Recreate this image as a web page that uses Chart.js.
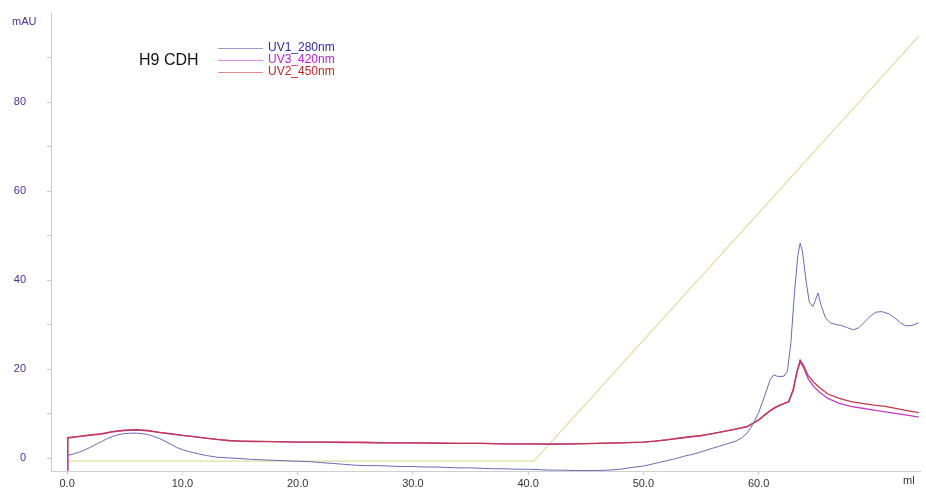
<!DOCTYPE html>
<html>
<head>
<meta charset="utf-8">
<title>H9 CDH chromatogram</title>
<script src="https://cdn.jsdelivr.net/npm/chart.js@4.4.1/dist/chart.umd.min.js"></script>
<style>
  html, body { margin: 0; padding: 0; background: #ffffff; }
  #c { display: block; }
</style>
</head>
<body>
<canvas id="c" width="926" height="490"></canvas>
<script>
// ---- chromatogram data (elution volume in ml, absorbance in mAU) ----
const runTitle = 'H9 CDH';
const seriesNames = ['UV1_280nm', 'UV3_420nm', 'UV2_450nm'];

const uv1Volume = [0.0, 0.05, 0.5, 1.0, 1.5, 2.0, 2.5, 3.0, 3.5, 4.0, 4.5, 5.0, 5.5, 6.0, 6.5, 7.0, 7.5, 8.0, 8.5, 9.0, 9.5, 10.0, 10.5, 11.0, 11.5, 12.0, 12.5, 13.0, 14.0, 15.0, 16.0, 17.0, 18.0, 19.0, 20.0, 21.0, 22.0, 23.0, 24.0, 25.0, 26.0, 27.0, 28.0, 29.0, 30.0, 31.0, 32.0, 33.0, 34.0, 35.0, 36.0, 37.0, 38.0, 39.0, 40.0, 41.0, 42.0, 43.0, 44.0, 45.0, 46.0, 47.0, 48.0, 49.0, 50.0, 50.5, 51.0, 51.5, 52.0, 52.5, 53.0, 53.5, 54.0, 54.5, 55.0, 55.5, 56.0, 56.5, 57.0, 57.5, 58.0, 58.5, 59.0, 59.5, 60.0, 60.5, 61.0, 61.3, 61.7, 62.2, 62.5, 62.8, 63.1, 63.4, 63.6, 63.8, 64.1, 64.4, 64.7, 65.0, 65.15, 65.4, 65.8, 66.2, 66.7, 67.2, 67.7, 68.2, 68.7, 69.2, 69.7, 70.2, 70.7, 71.3, 71.8, 72.3, 72.8, 73.3, 73.9];
const uv1Absorbance = [-2.7, 0.6, 0.9, 1.3, 1.8, 2.4, 3.1, 3.7, 4.4, 4.9, 5.3, 5.5, 5.6, 5.6, 5.5, 5.3, 4.9, 4.4, 3.8, 3.1, 2.4, 1.9, 1.5, 1.2, 0.9, 0.6, 0.4, 0.2, 0.05, -0.1, -0.3, -0.4, -0.5, -0.6, -0.7, -0.8, -1.0, -1.2, -1.4, -1.6, -1.7, -1.7, -1.8, -1.9, -1.9, -2.0, -2.0, -2.1, -2.2, -2.2, -2.3, -2.4, -2.4, -2.5, -2.5, -2.6, -2.7, -2.7, -2.8, -2.8, -2.8, -2.7, -2.5, -2.1, -1.8, -1.5, -1.2, -0.9, -0.6, -0.3, 0.0, 0.4, 0.7, 1.0, 1.4, 1.8, 2.2, 2.6, 3.0, 3.4, 3.8, 4.5, 5.6, 7.6, 10.2, 13.8, 17.6, 18.7, 18.3, 18.4, 19.6, 26.0, 37.0, 45.5, 48.3, 46.5, 40.0, 35.0, 34.0, 36.0, 37.1, 34.5, 31.5, 30.4, 30.0, 29.8, 29.3, 28.8, 29.3, 30.6, 31.9, 32.8, 32.9, 32.4, 31.5, 30.4, 29.7, 29.8, 30.4];

const visVolume = [0.0, 0.05, 1, 2, 3, 4, 5, 6, 7, 8, 9, 10, 11, 12, 13, 14, 15, 16, 18, 20, 22, 24, 26, 28, 30, 32, 34, 36, 38, 40, 42, 44, 46, 48, 50, 51, 52, 53, 54, 55, 56, 57, 58, 59, 60, 60.5, 61, 61.5, 62, 62.6, 63.0, 63.3, 63.6, 63.9, 64.3, 64.8, 65.3, 66, 67, 68, 69, 70, 71, 72, 73, 73.9];
const uv3Absorbance = [-2.7, 4.5, 4.8, 5.1, 5.4, 5.9, 6.2, 6.3, 6.1, 5.8, 5.4, 5.1, 4.8, 4.5, 4.2, 3.9, 3.8, 3.7, 3.7, 3.6, 3.6, 3.5, 3.5, 3.4, 3.4, 3.4, 3.3, 3.3, 3.2, 3.2, 3.2, 3.2, 3.3, 3.4, 3.6, 3.8, 4.1, 4.4, 4.7, 5.0, 5.5, 6.0, 6.5, 7.0, 8.5, 9.6, 10.6, 11.4, 12.0, 12.6, 15.2, 19.0, 21.6, 20.3, 17.8, 16.0, 14.8, 13.4, 12.3, 11.6, 11.2, 10.8, 10.4, 10.0, 9.6, 9.2];
const uv2Absorbance = [-2.7, 4.6, 4.9, 5.2, 5.5, 6.0, 6.3, 6.4, 6.2, 5.8, 5.5, 5.1, 4.8, 4.5, 4.2, 4.0, 3.8, 3.8, 3.7, 3.6, 3.6, 3.6, 3.5, 3.4, 3.4, 3.3, 3.3, 3.3, 3.2, 3.2, 3.1, 3.2, 3.3, 3.4, 3.6, 3.8, 4.1, 4.5, 4.8, 5.1, 5.5, 6.0, 6.5, 7.1, 8.6, 9.7, 10.7, 11.5, 12.1, 12.7, 15.4, 19.2, 22.0, 20.8, 18.5, 17.0, 15.8, 14.4, 13.4, 12.7, 12.3, 11.9, 11.6, 11.1, 10.6, 10.2];

const gradientVolume = [0.0, 40.5, 73.9];
const gradientLevel = [-0.7, -0.7, 94.8];

const xTickValues = [0, 10, 20, 30, 40, 50, 60];
const yTickValues = [0, 10, 20, 30, 40, 50, 60, 70, 80, 90];
const yLabelStep = 20;

// ---- helpers ----
const toPoints = (xs, ys) => xs.map((x, i) => ({ x, y: ys[i] }));

const lineColors = ['#6a6aae', '#c23cbf', '#c0394a'];
const legendLineColors = ['#9a9ad0', '#d98ad8', '#d88c8c'];
const legendTextColors = ['#2c2ca0', '#b524c4', '#b82828'];

// fixed axis box sizes, without the label overflow padding Chart.js adds
const fixScale = (size) => (s) => {
  if (s.isHorizontal()) { s.height = size; } else { s.width = size; }
  s.paddingTop = 0; s.paddingBottom = 0; s.paddingLeft = 0; s.paddingRight = 0;
};

// Title + legend + axis units, painted on top of the plot
const chromLegend = {
  id: 'chromLegend',
  afterDraw(chart) {
    const ctx = chart.ctx;
    ctx.save();
    ctx.textBaseline = 'middle';

    ctx.font = '16px "Liberation Sans", Arial, sans-serif';
    ctx.fillStyle = '#111111';
    ctx.fillText(runTitle, 139, 61);

    ctx.font = '12px "Liberation Sans", Arial, sans-serif';
    seriesNames.forEach((name, i) => {
      const y = 48 + i * 12;
      ctx.strokeStyle = legendLineColors[i];
      ctx.lineWidth = 1;
      ctx.beginPath();
      ctx.moveTo(218, y + 0.5);
      ctx.lineTo(263, y + 0.5);
      ctx.stroke();
      ctx.fillStyle = legendTextColors[i];
      ctx.fillText(name, 268, y);
    });

    ctx.font = '11px "Liberation Sans", Arial, sans-serif';
    ctx.fillStyle = '#3b3596';
    ctx.fillText('mAU', 12, 22);
    ctx.fillStyle = '#333333';
    ctx.fillText('ml', 903, 481);
    ctx.restore();
  }
};

new Chart(document.getElementById('c'), {
  type: 'line',
  data: {
    datasets: [
      { label: seriesNames[0], data: toPoints(uv1Volume, uv1Absorbance), borderColor: lineColors[0], borderWidth: 1, order: 1 },
      { label: seriesNames[1], data: toPoints(visVolume, uv3Absorbance), borderColor: lineColors[1], borderWidth: 1.3, order: 3 },
      { label: seriesNames[2], data: toPoints(visVolume, uv2Absorbance), borderColor: lineColors[2], borderWidth: 1.3, order: 2 },
      { label: 'Gradient', data: toPoints(gradientVolume, gradientLevel), borderColor: '#dcdfa2', borderWidth: 1.2, order: 4 }
    ]
  },
  options: {
    responsive: false,
    animation: false,
    devicePixelRatio: 1,
    layout: { autoPadding: false, padding: { top: 13, right: 6, left: 0, bottom: 0 } },
    elements: { point: { radius: 0 }, line: { tension: 0 } },
    plugins: { legend: { display: false }, tooltip: { enabled: false } },
    scales: {
      x: {
        type: 'linear',
        min: -1.4,
        max: 74.0,
        afterBuildTicks: s => { s.ticks = xTickValues.map(v => ({ value: v })); },
        afterFit: fixScale(19),
        ticks: {
          callback: v => Number(v).toFixed(1),
          color: '#333333',
          font: { family: '"Liberation Sans", Arial, sans-serif', size: 11 },
          padding: 2,
          maxRotation: 0
        },
        grid: { drawOnChartArea: false, tickLength: 4, color: '#c9c9c9' },
        border: { color: '#cfcfcf', width: 1 }
      },
      y: {
        type: 'linear',
        min: -2.9,
        max: 100,
        afterBuildTicks: s => { s.ticks = yTickValues.map(v => ({ value: v })); },
        afterFit: fixScale(51),
        ticks: {
          callback: v => (v % yLabelStep === 0 ? String(v) : ''),
          color: '#3b3596',
          font: { family: '"Liberation Sans", Arial, sans-serif', size: 11 },
          padding: 21
        },
        grid: { drawOnChartArea: false, tickLength: 4, color: '#c9c9c9' },
        border: { color: '#cfcfcf', width: 1 }
      }
    }
  },
  plugins: [chromLegend]
});
</script>
</body>
</html>
